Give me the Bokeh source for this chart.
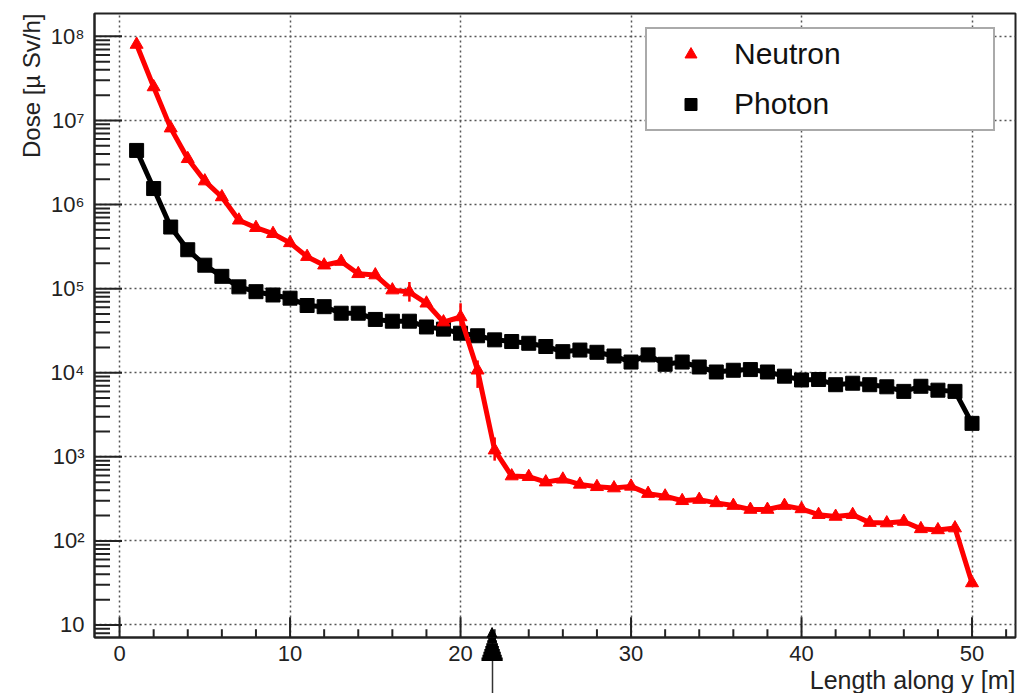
import math
from bokeh.plotting import figure
from bokeh.models import (Range1d, FixedTicker, Legend, LegendItem,
                          Title, Arrow, NormalHead)
from bokeh.embed import file_html
from bokeh.resources import INLINE

# ---------------- data ----------------
length_m = list(range(1, 51))

neutron_dose = [8.0e7, 2.5e7, 8.1e6, 3.5e6, 1.9e6, 1.23e6, 6.5e5, 5.3e5, 4.5e5, 3.5e5,
                2.4e5, 1.9e5, 2.1e5, 1.5e5, 1.45e5, 9.6e4, 9.1e4, 6.7e4, 4.0e4, 4.6e4,
                1.07e4, 1.2e3, 590, 580, 500, 540, 470, 440, 425, 445,
                365, 340, 300, 310, 283, 263, 236, 236, 263, 240,
                205, 195, 205, 165, 163, 170, 139, 135, 142, 31.6]

photon_dose = [4.4e6, 1.55e6, 5.4e5, 2.9e5, 1.9e5, 1.4e5, 1.05e5, 9.2e4, 8.4e4, 7.7e4,
               6.3e4, 6.1e4, 5.1e4, 5.1e4, 4.3e4, 4.1e4, 4.1e4, 3.5e4, 3.3e4, 2.95e4,
               2.75e4, 2.46e4, 2.35e4, 2.24e4, 2.05e4, 1.78e4, 1.86e4, 1.75e4, 1.58e4, 1.34e4,
               1.63e4, 1.26e4, 1.34e4, 1.17e4, 1.02e4, 1.07e4, 1.09e4, 1.02e4, 9.1e3, 8.2e3,
               8.3e3, 7.2e3, 7.5e3, 7.2e3, 6.8e3, 6.0e3, 6.9e3, 6.2e3, 6.0e3, 2.5e3]

# neutron error bars (only visible ones)
err_x = [17, 20, 21, 22]
err_lo = [7.0e4, 3.6e4, 6.6e3, 9.0e2]
err_hi = [1.2e5, 6.7e4, 1.4e4, 1.7e3]

x_ticks = [0, 10, 20, 30, 40, 50]
x_minor = [v for v in range(0, 53, 2) if v % 10]
y_ticks = [10, 100, 1000, 10000, 100000, 1000000, 10000000, 100000000]
y_tick_labels = ["10", "10\u00b2", "10\u00b3", "10\u2074", "10\u2075", "10\u2076", "10\u2077", "10\u2078"]
y_minor = [m * t for t in [1] + y_ticks for m in range(2, 10)]

marker_x = 21.85  # arrow position below the axis

X0, X1 = -1.47, 52.55
Y0, Y1 = 7.1, 1.87e8
FONT = "Liberation Sans"

# frame geometry (pixels)
W, H = 1023, 693
F_LEFT, F_RIGHT, F_TOP, F_BOTTOM = 94, 8, 13, 55
F_H = H - F_TOP - F_BOTTOM


def y_at_px(py):
    """data y (log axis) at a canvas pixel row, for annotations only"""
    l1, l0 = math.log10(Y1), math.log10(Y0)
    return 10 ** (l1 - (py - F_TOP) / F_H * (l1 - l0))


p = figure(width=W, height=H, output_backend="svg", toolbar_location=None,
           x_range=Range1d(X0, X1), y_range=Range1d(Y0, Y1),
           y_axis_type="log", min_border_left=F_LEFT, min_border_right=F_RIGHT,
           min_border_top=F_TOP, min_border_bottom=F_BOTTOM)
p.background_fill_color = "white"
p.border_fill_color = "white"
p.outline_line_color = "#222222"
p.outline_line_width = 2

# axes
STEM = 56
xa = p.xaxis[0]
xa.ticker = FixedTicker(ticks=x_ticks, minor_ticks=[marker_x])
ya = p.yaxis[0]
ya.ticker = FixedTicker(ticks=y_ticks, minor_ticks=y_minor)
ya.major_label_overrides = {t: l for t, l in zip(y_ticks, y_tick_labels)}
for ax in (xa, ya):
    ax.axis_line_color = "#222222"
    ax.axis_line_width = 2
    ax.major_tick_out = 0
    ax.minor_tick_out = 0
    ax.major_tick_in = 0
    ax.minor_tick_in = 0
    ax.major_label_text_font = FONT
    ax.major_label_text_font_size = "22px"
    ax.major_label_text_color = "#222222"
ya.major_label_standoff = 10
# stem of the position marker arrow below the axis (a long outward minor tick)
xa.minor_tick_out = STEM
xa.minor_tick_line_color = "#333333"
xa.minor_tick_line_width = 1.5
xa.major_label_standoff = 8 - STEM

# grid
for g in (p.xgrid[0], p.ygrid[0]):
    g.grid_line_color = "#555555"
    g.grid_line_dash = "2 3"
    g.grid_line_width = 1.5
p.xgrid[0].ticker = FixedTicker(ticks=x_ticks)
p.ygrid[0].ticker = FixedTicker(ticks=y_ticks)

# tick marks drawn inward from the frame edges
tick_color = "#222222"
xe = X0 + 0.03
ye = Y0 * 1.004
p.ray(x=[xe] * len(y_ticks), y=y_ticks, length=27, length_units="screen", angle=0,
      line_color=tick_color, line_width=2)
p.ray(x=[xe] * len(y_minor), y=y_minor, length=15, length_units="screen", angle=0,
      line_color=tick_color, line_width=2)
p.ray(x=x_ticks, y=[ye] * len(x_ticks), length=20, length_units="screen", angle=math.pi / 2,
      line_color=tick_color, line_width=2)
p.ray(x=x_minor, y=[ye] * len(x_minor), length=8, length_units="screen", angle=math.pi / 2,
      line_color=tick_color, line_width=2)

# series
p.line(length_m, photon_dose, line_color="black", line_width=5)
r_ph = p.scatter(length_m, photon_dose, marker="square", size=14, fill_color="black", line_color="black")
p.segment(x0=err_x, y0=err_lo, x1=err_x, y1=err_hi, line_color="red", line_width=2.5)
p.line(length_m, neutron_dose, line_color="red", line_width=5)
r_ne = p.scatter(length_m, neutron_dose, marker="triangle", size=13, fill_color="red", line_color="red")

# legend
legend = Legend(items=[LegendItem(label="Neutron", renderers=[r_ne]),
                       LegendItem(label="Photon", renderers=[r_ph])],
                location=(551, 506), orientation="vertical",
                padding=8, spacing=16, glyph_width=71, glyph_height=30,
                label_height=30, label_width=251, label_standoff=8,
                label_text_font=FONT, label_text_font_size="30px",
                label_text_color="#111111",
                border_line_color="#555555", border_line_width=2,
                background_fill_color="white", background_fill_alpha=1.0)
p.add_layout(legend, "center")

# axis titles
p.add_layout(Title(text="Length along y [m]", align="right", text_font=FONT,
                   text_font_size="25px", text_font_style="normal",
                   text_color="#222222", standoff=0), "below")
p.add_layout(Title(text="Dose [\u00b5 Sv/h]", align="right", text_font=FONT,
                   text_font_size="24px", text_font_style="normal",
                   text_color="#222222", standoff=5), "left")

# position-marker arrow head: tip just inside the frame, body below built from slices
TIP, BASE, HEAD_W = 628, 661, 22
frame_bottom_px = H - F_BOTTOM
p.add_layout(Arrow(x_start=marker_x, y_start=y_at_px(frame_bottom_px + 2),
                   x_end=marker_x, y_end=y_at_px(TIP),
                   line_color="black", line_width=1,
                   end=NormalHead(size=30, fill_color="black", line_color="black")))
n_slices = 8
dh = (BASE - frame_bottom_px) / n_slices
for k in range(n_slices):
    top = frame_bottom_px + k * dh
    bot = top + dh + 0.6
    width = HEAD_W * ((top + bot) / 2 - TIP) / (BASE - TIP)
    p.add_layout(Arrow(x_start=marker_x, y_start=y_at_px(bot),
                       x_end=marker_x, y_end=y_at_px(top),
                       line_color="black", line_width=width,
                       end=NormalHead(size=34, fill_color="black", line_color="black")))

open("out.html", "w").write(file_html(p, INLINE))
